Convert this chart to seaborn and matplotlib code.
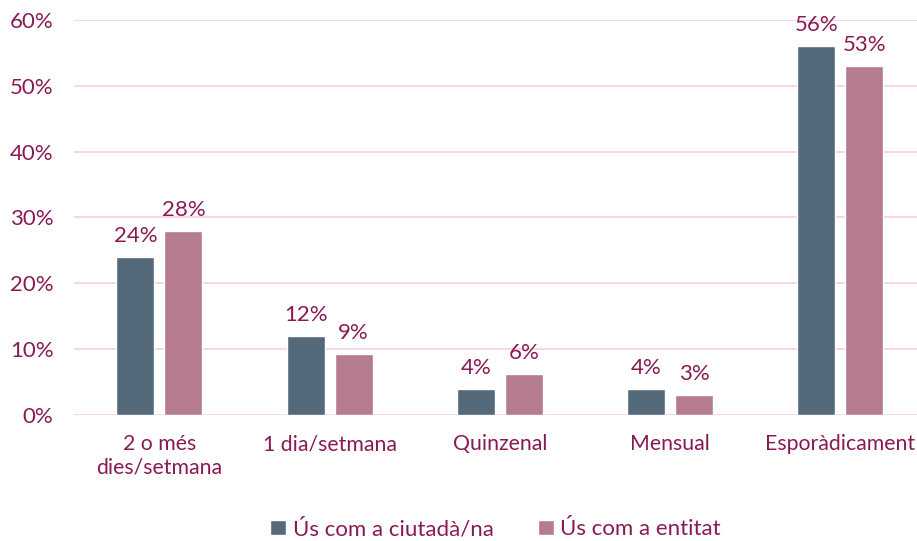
import pandas as pd
import matplotlib.pyplot as plt
import seaborn as sns

categories = ['2 o més\ndies/setmana', '1 dia/setmana', 'Quinzenal', 'Mensual', 'Esporàdicament']
ciutada = [24, 12, 4, 4, 56]
entitat = [28, 9.3, 6.2, 3, 53]
series_names = ['Ús com a ciutadà/na', 'Ús com a entitat']
yticks = [0, 10, 20, 30, 40, 50, 60]

df = pd.DataFrame({
    'cat': categories * 2,
    'val': ciutada + entitat,
    'serie': [series_names[0]] * 5 + [series_names[1]] * 5,
})

sns.set_style('white')
plt.rcParams['font.family'] = ['Lato', 'DejaVu Sans']
txt = '#8a1a55'

fig, ax = plt.subplots(figsize=(9.17, 5.41), dpi=100)
sns.barplot(data=df, x='cat', y='val', hue='serie', order=categories,
            palette=['#546a7a', '#b57c8f'], width=0.565, gap=0.21,
            saturation=1, ax=ax)

# etiquetes de valor sobre les barres
for c in ax.containers:
    ax.bar_label(c, labels=[f'{v:.0f}%' for v in c.datavalues], padding=8,
                 color=txt, fontsize=16)

ax.set_ylim(0, 60)
ax.set_xlim(-0.5, 4.45)
ax.set_yticks(yticks)
ax.set_yticklabels([f'{t}%' for t in yticks])
ax.grid(axis='y', color='#f8d2e2', linewidth=1.3)
ax.set_axisbelow(True)
sns.despine(left=True, bottom=True)
ax.tick_params(axis='y', length=0, labelsize=16, labelcolor=txt, pad=15)
ax.tick_params(axis='x', length=0, labelsize=15.3, labelcolor=txt, pad=14)
ax.set_xlabel('')
ax.set_ylabel('')

leg = ax.legend(loc='upper center', bbox_to_anchor=(0.5, -0.212), ncol=2,
                frameon=False, fontsize=16, handlelength=0.7, handleheight=0.7,
                handletextpad=0.3, columnspacing=2.0)
for t in leg.get_texts():
    t.set_color(txt)

plt.subplots_adjust(left=0.081, right=1.0, top=0.963, bottom=0.233)
plt.savefig('out.png', dpi=100)
